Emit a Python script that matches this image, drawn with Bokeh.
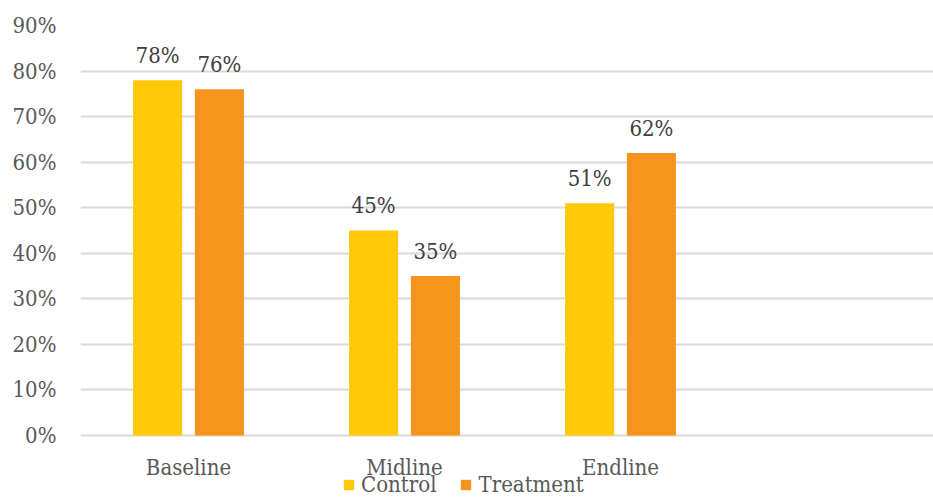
from bokeh.plotting import figure
from bokeh.models import (ColumnDataSource, Range1d, FixedTicker, NumeralTickFormatter,
                          Legend, LegendItem)
from bokeh.core.properties import value
from bokeh.embed import file_html
from bokeh.resources import INLINE

# Survey rounds and the share for each arm (percent)
rounds = ["Baseline", "Midline", "Endline"]
control = [78, 45, 51]
treatment = [76, 35, 62]
series_names = ["Control", "Treatment"]
y_ticks = [0, 10, 20, 30, 40, 50, 60, 70, 80, 90]

FONT = "DejaVu Serif Condensed"
AXIS_TEXT = "#595959"
LABEL_TEXT = "#404040"
GRID = "#d9d9d9"
COLORS = ["#ffc90a", "#f7941e"]

centers = [i + 0.5 for i in range(len(rounds))]
offset = 0.143
bar_w = 0.227

HEIGHT = 497
TOP_PAD = 25
ZERO_PX = 435  # pixel row of the 0% line

# The frame runs to the bottom of the canvas; the category axis sits at y=0
# and the legend is laid out underneath it.
Y_TOP = 0.9
Y_BOTTOM = -Y_TOP * (HEIGHT - ZERO_PX) / (ZERO_PX - TOP_PAD)

p = figure(width=933, height=HEIGHT, output_backend="svg", toolbar_location=None,
           x_range=Range1d(0, 3.949), y_range=Range1d(Y_BOTTOM, Y_TOP),
           min_border_left=80, min_border_right=0, min_border_top=TOP_PAD,
           min_border_bottom=0)
p.outline_line_color = None
p.background_fill_color = "white"
p.border_fill_color = "white"

renderers = []
for k, (vals, color) in enumerate(zip([control, treatment], COLORS)):
    sign = -1 if k == 0 else 1
    src = ColumnDataSource(dict(
        x=[c + sign * offset for c in centers],
        top=[v / 100 for v in vals],
        label=[f"{v}%" for v in vals],
    ))
    r = p.vbar(x="x", top="top", width=bar_w, bottom=0, source=src,
               fill_color=color, line_color=None)
    renderers.append(r)
    p.text(x="x", y="top", text="label", source=src,
           text_font=value(FONT), text_font_size="22px", text_color=LABEL_TEXT,
           text_align="center", text_baseline="middle", y_offset=-25)

# y axis: percentage labels only, gridlines across
p.yaxis.ticker = FixedTicker(ticks=[t / 100 for t in y_ticks])
p.yaxis.formatter = NumeralTickFormatter(format="0%")
p.yaxis.axis_line_color = None
p.yaxis.major_tick_line_color = None
p.yaxis.minor_tick_line_color = None
p.yaxis.major_label_text_font = FONT
p.yaxis.major_label_text_font_size = "22px"
p.yaxis.major_label_text_color = AXIS_TEXT
p.yaxis.major_label_standoff = 18

p.ygrid.ticker = FixedTicker(ticks=[t / 100 for t in y_ticks])
p.ygrid.grid_line_color = GRID
p.ygrid.grid_line_width = 2
p.xgrid.grid_line_color = None

# x axis: round names under each group
p.xaxis.fixed_location = 0
p.xaxis.ticker = FixedTicker(ticks=centers)
p.xaxis.major_label_overrides = {c: name for c, name in zip(centers, rounds)}
p.xaxis.axis_line_color = None
p.xaxis.major_tick_line_color = None
p.xaxis.minor_tick_line_color = None
p.xaxis.major_label_text_font = FONT
p.xaxis.major_label_text_font_size = "22px"
p.xaxis.major_label_text_color = AXIS_TEXT
p.xaxis.major_label_standoff = 13

legend = Legend(items=[LegendItem(label=n, renderers=[r])
                       for n, r in zip(series_names, renderers)],
                orientation="horizontal", location=(262, 0),
                glyph_width=13, glyph_height=13, label_standoff=6, spacing=23,
                padding=0, margin=0,
                label_text_font=FONT, label_text_font_size="22px",
                label_text_color=AXIS_TEXT,
                border_line_color=None, background_fill_alpha=0)
p.add_layout(legend)

open("out.html", "w").write(file_html(p, INLINE))
